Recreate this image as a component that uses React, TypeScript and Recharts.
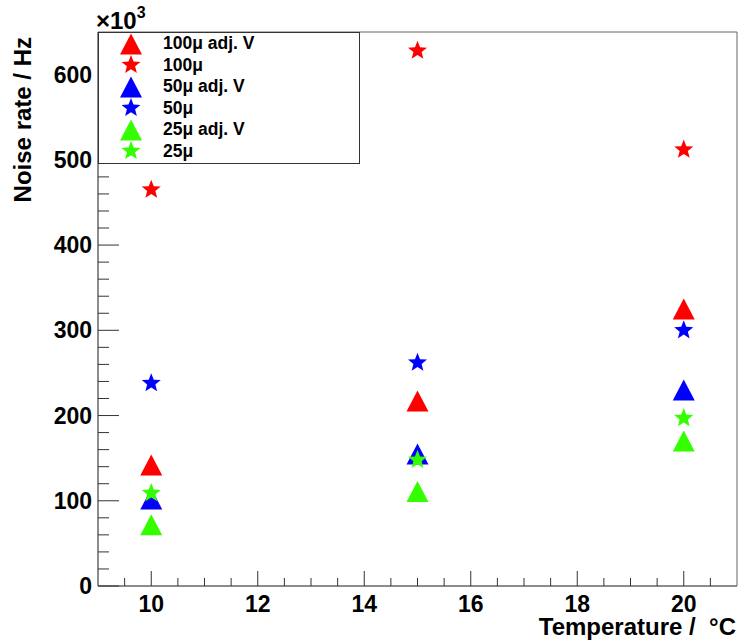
import React from 'react';
import { ScatterChart, Scatter, XAxis, YAxis, Legend, ReferenceArea, Label } from 'recharts';

const temperatures = [10, 15, 20];
const adj100 = [142, 217, 325];
const raw100 = [465, 628, 512];
const adj50 = [102, 155, 230];
const raw50 = [238, 262, 300];
const adj25 = [72, 111, 170];
const raw25 = [109, 148, 197];

const xTicks = [9.5, 10, 10.5, 11, 11.5, 12, 12.5, 13, 13.5, 14, 14.5, 15, 15.5, 16, 16.5, 17, 17.5, 18, 18.5, 19, 19.5, 20, 20.5];
const yTicks = [0, 20, 40, 60, 80, 100, 120, 140, 160, 180, 200, 220, 240, 260, 280, 300, 320, 340, 360, 380, 400, 420, 440, 460, 480, 500, 520, 540, 560, 580, 600, 620, 640];

const FONT = '"Liberation Sans", Arial, sans-serif';
const RED = '#ff0000';
const BLUE = '#0000ff';
const GREEN = '#33ff00';

const toPoints = (vals: number[]) => temperatures.map((t, i) => ({ t, v: vals[i] }));

const series = [
  { name: '100μ adj. V', data: toPoints(adj100), color: RED, marker: 'triangle' },
  { name: '100μ', data: toPoints(raw100), color: RED, marker: 'star' },
  { name: '50μ adj. V', data: toPoints(adj50), color: BLUE, marker: 'triangle' },
  { name: '50μ', data: toPoints(raw50), color: BLUE, marker: 'star' },
  { name: '25μ adj. V', data: toPoints(adj25), color: GREEN, marker: 'triangle' },
  { name: '25μ', data: toPoints(raw25), color: GREEN, marker: 'star' },
];

const trianglePath = (cx: number, cy: number) => {
  const h = 21, w = 22;
  return `M${cx},${cy - h / 2} L${cx + w / 2},${cy + h / 2} L${cx - w / 2},${cy + h / 2} Z`;
};

const starPath = (cx: number, cy: number) => {
  const R = 10, r = 4.3;
  let d = '';
  for (let i = 0; i < 10; i++) {
    const rad = i % 2 === 0 ? R : r;
    const a = -Math.PI / 2 + (i * Math.PI) / 5;
    d += `${i === 0 ? 'M' : 'L'}${cx + rad * Math.cos(a)},${cy + rad * Math.sin(a)} `;
  }
  return d + 'Z';
};

const Marker = ({ cx, cy, color, marker }: any) => {
  if (cx == null || cy == null) return null;
  return <path d={marker === 'triangle' ? trianglePath(cx, cy) : starPath(cx, cy)} fill={color} />;
};

const YTick = ({ x, y, payload }: any) => {
  const major = payload.value % 100 === 0;
  return (
    <g>
      <line x1={x} y1={y} x2={x + (major ? 21 : 11)} y2={y} stroke="#333" strokeWidth={1} />
      {major && (
        <text x={x - 6} y={y + 8} textAnchor="end" fontFamily={FONT} fontWeight="bold" fontSize={23} fill="#000">
          {payload.value}
        </text>
      )}
    </g>
  );
};

const XTick = ({ x, y, payload }: any) => {
  const major = payload.value % 2 === 0;
  return (
    <g>
      <line x1={x} y1={y} x2={x} y2={y - (major ? 15 : 8)} stroke="#333" strokeWidth={1} />
      {major && (
        <text x={x} y={y + 26} textAnchor="middle" fontFamily={FONT} fontWeight="bold" fontSize={23} fill="#000">
          {payload.value}
        </text>
      )}
    </g>
  );
};

const LegendBox = () => (
  <div
    style={{
      width: 262,
      height: 132,
      background: '#fff',
      border: '1px solid #333',
      boxSizing: 'border-box',
      fontFamily: FONT,
      fontWeight: 'bold',
      fontSize: 17.5,
      paddingTop: 0,
    }}
  >
    {series.map((s) => (
      <div key={s.name} style={{ display: 'flex', alignItems: 'center', height: 21.5 }}>
        <svg width={64} height={22} style={{ flex: 'none' }}>
          <Marker cx={32} cy={11} color={s.color} marker={s.marker} />
        </svg>
        <span style={{ color: '#000' }}>{s.name}</span>
      </div>
    ))}
  </div>
);

export default function App() {
  return (
    <div style={{ position: 'absolute', left: 0, top: 0, width: 738, height: 644, background: '#fff' }}>
      <ScatterChart width={738} height={644} margin={{ top: 32, right: 1, bottom: 0, left: 0 }}>
        <XAxis
          type="number"
          dataKey="t"
          domain={[9, 21]}
          ticks={xTicks}
          interval={0}
          tickSize={0}
          tickMargin={0}
          tickLine={false}
          tick={<XTick />}
          height={58}
          axisLine={{ stroke: '#666' }}
        >
          <Label
            content={() => (
              <text x={736} y={635} textAnchor="end" fontFamily={FONT} fontWeight="bold" fontSize={24} fill="#000">
                {'Temperature / \u00A0°C'}
              </text>
            )}
          />
        </XAxis>
        <YAxis
          type="number"
          dataKey="v"
          domain={[0, 650]}
          ticks={yTicks}
          interval={0}
          tickSize={0}
          tickMargin={0}
          tickLine={false}
          tick={<YTick />}
          width={98}
          axisLine={{ stroke: '#666' }}
        >
          <Label
            content={() => (
              <text
                x={31}
                y={37}
                transform="rotate(-90, 31, 37)"
                textAnchor="end"
                fontFamily={FONT}
                fontWeight="bold"
                fontSize={24}
                fill="#000"
              >
                Noise rate / Hz
              </text>
            )}
          />
        </YAxis>
        <ReferenceArea x1={9} x2={21} y1={0} y2={650} fill="none" stroke="#666" strokeWidth={1} />
        {series.map((s) => (
          <Scatter
            key={s.name}
            name={s.name}
            data={s.data}
            isAnimationActive={false}
            shape={(p: any) => <Marker cx={p.cx} cy={p.cy} color={s.color} marker={s.marker} />}
          />
        ))}
        <Legend
          layout="vertical"
          align="center"
          verticalAlign="middle"
          content={<LegendBox />}
          wrapperStyle={{ left: 98, top: 32, width: 262, height: 132 }}
        />
        <text x={96} y={29} fontFamily={FONT} fontWeight="bold" fontSize={24} fill="#000">
          ×10
          <tspan fontSize={16} dy={-11}>3</tspan>
        </text>
      </ScatterChart>
    </div>
  );
}
